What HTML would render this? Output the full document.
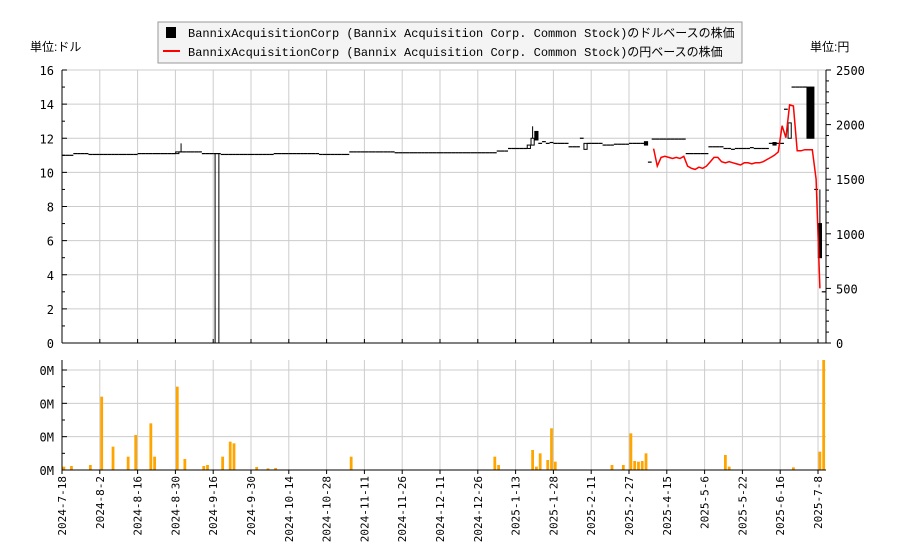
<!DOCTYPE html>
<html><head><meta charset="utf-8"><style>
body{margin:0;background:#fff;}
svg text{font-family:"DejaVu Sans Mono","Liberation Mono","Noto Sans CJK JP",monospace;font-size:12px;fill:#000;}
</style></head><body>
<svg id="c" width="900" height="550" xmlns="http://www.w3.org/2000/svg">
<rect width="900" height="550" fill="#fff"/>
<g id="grid"></g><g id="marks"></g><g id="axes"></g>
<g>
<rect x="158" y="22" width="584" height="41" fill="#f4f4f4" stroke="#999"/>
<rect x="166" y="27" width="10" height="11" fill="#000"/>
<text x="188" y="37" style="font-family:'Liberation Mono','Noto Sans CJK JP',monospace">BannixAcquisitionCorp (Bannix Acquisition Corp. Common Stock)のドルベースの株価</text>
<line x1="163" y1="51" x2="180" y2="51" stroke="#f00" stroke-width="2"/>
<text x="188" y="56" style="font-family:'Liberation Mono','Noto Sans CJK JP',monospace">BannixAcquisitionCorp (Bannix Acquisition Corp. Common Stock)の円ベースの株価</text>
</g>
<text x="30" y="51" style="font-family:'Liberation Sans','Noto Sans CJK JP',sans-serif">単位:ドル</text>
<text x="810" y="51" style="font-family:'Liberation Sans','Noto Sans CJK JP',sans-serif">単位:円</text>
</svg>
<script>
const dateLabels=["2024-7-18","2024-8-2","2024-8-16","2024-8-30","2024-9-16","2024-9-30","2024-10-14","2024-10-28","2024-11-11","2024-11-26","2024-12-11","2024-12-26","2025-1-13","2025-1-28","2025-2-11","2025-2-27","2025-4-15","2025-5-6","2025-5-22","2025-6-16","2025-7-8"];
const closes=[11.0,11.0,11.0,11.1,11.1,11.1,11.1,11.05,11.05,11.05,11.05,11.05,11.05,11.05,11.05,11.05,11.05,11.05,11.05,11.05,
11.1,11.1,11.1,11.1,11.1,11.1,11.1,11.1,11.1,11.1,11.2,11.2,11.2,11.2,11.2,11.2,11.2,11.1,11.1,11.1,
11.1,11.1,11.05,11.05,11.05,11.05,11.05,11.05,11.05,11.05,11.05,11.05,11.05,11.05,11.05,11.05,11.1,11.1,11.1,11.1,
11.1,11.1,11.1,11.1,11.1,11.1,11.1,11.1,11.05,11.05,11.05,11.05,11.05,11.05,11.05,11.05,11.2,11.2,11.2,11.2,
11.2,11.2,11.2,11.2,11.2,11.2,11.2,11.2,11.15,11.15,11.15,11.15,11.15,11.15,11.15,11.15,11.15,11.15,11.15,11.15,
11.15,11.15,11.15,11.15,11.15,11.15,11.15,11.15,11.15,11.15,11.15,11.15,11.15,11.15,11.15,11.25,11.25,11.25,11.4,11.4,
11.4,11.4,11.4,11.6,12.0,11.9,11.7,11.8,11.7,11.75,11.7,11.7,11.7,11.7,11.5,11.5,11.5,12.0,11.7,11.7,
11.7,11.7,11.7,11.6,11.6,11.6,11.65,11.65,11.65,11.65,11.7,11.7,11.7,11.7,11.6,10.6,11.95,11.95,11.95,11.95,
11.95,11.95,11.95,11.95,11.95,11.1,11.1,11.1,11.1,11.1,11.1,11.5,11.5,11.5,11.5,11.4,11.4,11.35,11.4,11.4,
11.4,11.4,11.4,11.4,11.4,11.4,11.4,11.7,11.6,11.7,11.7,13.7,12.9,15.0,15.0,15.0,15.0,12.0,12.0,9.0,5.0,3.0];
const openOverIdx=[30,123,124,125,138,154,182,188,192,197,198,200];
const openOverVal=[11.1,11.4,11.6,12.4,11.35,11.8,11.45,11.75,12.0,15.0,15.0,7.0];
const highIdx=[31,124,200];
const highVal=[11.7,12.7,9.0];
const lowIdx=[40,41];
const lowVal=[0,0];
const yenStart=156;
const yen=[1780,1620,1700,1710,1700,1690,1700,1690,1710,1620,1600,1590,1610,1600,1620,1660,1700,1700,1660,1650,1660,1650,1640,1630,1650,1650,1640,1650,1650,1660,1680,1700,1720,1750,1990,1880,2180,2170,1760,1760,1770,1770,1770,1500,500];
const volIdx=[0,2,7,10,13,17,19,23,24,30,32,37,38,42,44,45,51,54,56,76,114,115,124,125,126,128,129,130,145,148,150,151,152,153,154,175,176,193,200,201];
const volVal=[0.1,0.12,0.15,2.2,0.7,0.4,1.05,1.4,0.4,2.5,0.33,0.12,0.15,0.4,0.85,0.8,0.09,0.05,0.06,0.4,0.4,0.15,0.6,0.1,0.5,0.3,1.25,0.25,0.15,0.15,1.1,0.27,0.25,0.27,0.5,0.45,0.1,0.08,0.55,3.3];
const leftTicks=[0,2,4,6,8,10,12,14,16];
const rightTicks=[0,500,1000,1500,2000,2500];
const volTicks=[0,1,2,3];

const NS="http://www.w3.org/2000/svg";
const X0=62,X1=826,BW=3.78,T=70,B=343,VT=360,VB=470;
const xs=i=>X0+i*BW, xc=i=>X0+i*BW+BW/2;
const yL=v=>B-v/16*(B-T), yR=v=>B-v/2500*(B-T), yV=v=>VB-v*(VB-VT)/3.3;
function mk(p,tag,a){const e=document.createElementNS(NS,tag);for(const k in a)e.setAttribute(k,a[k]);p.appendChild(e);return e;}
const G=document.getElementById('grid'),M=document.getElementById('marks'),A=document.getElementById('axes');
leftTicks.forEach(v=>{const l=mk(G,'line',{x1:X0,x2:X1,y1:yL(v),y2:yL(v),stroke:'#ccc'});});
volTicks.forEach(v=>{const l=mk(G,'line',{x1:X0,x2:X1,y1:yV(v),y2:yV(v),stroke:'#ccc'});});
dateLabels.forEach((d,k)=>{const x=xs(k*10);
 const l=mk(G,'line',{x1:x,x2:x,y1:T,y2:B,stroke:'#ccc'});
 const l2=mk(G,'line',{x1:x,x2:x,y1:VT,y2:VB,stroke:'#ccc'});
 const t=mk(A,'text',{transform:`translate(${x+4},${VB+6}) rotate(-90)`,'text-anchor':'end',style:'font-size:11px'});t.textContent=d;
 
 mk(A,'line',{x1:x,x2:x,y1:VB,y2:VB+4,stroke:'#000'});mk(A,'line',{x1:x,x2:x,y1:B,y2:B-4,stroke:'#000'});
});
closes.forEach((c,i)=>{
 let o=c; const oi=openOverIdx.indexOf(i); if(oi>=0)o=openOverVal[oi];
 const hi=highIdx.indexOf(i), lo=lowIdx.indexOf(i);
 const h=hi>=0?highVal[hi]:Math.max(o,c), lw=lo>=0?lowVal[lo]:Math.min(o,c);
 const g=mk(M,'g',{});
 if(h>Math.max(o,c)||lw<Math.min(o,c))mk(g,'line',{x1:xc(i),x2:xc(i),y1:yL(h),y2:yL(lw),stroke:'#000'});
 const top=yL(Math.max(o,c)),bot=yL(Math.min(o,c));
 if(bot-top<1)mk(g,'line',{x1:xs(i),x2:xs(i)+BW,y1:top,y2:top,stroke:'#000','stroke-width':1.2});
 else mk(g,'rect',{x:xs(i)+0.3,y:top,width:BW-0.6,height:bot-top,fill:c<o?'#000':'#fff',stroke:'#000','stroke-width':1});
});
let d='';yen.forEach((v,k)=>{d+=(k?'L':'M')+xc(yenStart+k).toFixed(1)+','+yR(v).toFixed(1);});
const yl=mk(M,'path',{d:d,fill:'none',stroke:'#f00','stroke-width':1.5});
volIdx.forEach((i,k)=>{const r=mk(M,'rect',{x:xs(i)+0.5,y:yV(volVal[k]),width:BW-1,height:VB-yV(volVal[k]),fill:'#ffa500'});
 });
mk(A,'line',{x1:X0,x2:X0,y1:T,y2:B,stroke:'#000'});mk(A,'line',{x1:X1,x2:X1,y1:T,y2:B,stroke:'#000'});
mk(A,'line',{x1:X0,x2:X1,y1:B,y2:B,stroke:'#000'});
mk(A,'line',{x1:X0,x2:X0,y1:VT,y2:VB,stroke:'#000'});mk(A,'line',{x1:X0,x2:X1,y1:VB,y2:VB,stroke:'#000'});
for(let v=0;v<=16;v++){mk(A,'line',{x1:X0,x2:X0+(v%2?3:5),y1:yL(v),y2:yL(v),stroke:'#000'});}
leftTicks.forEach(v=>{const t=mk(A,'text',{x:X0-8,y:yL(v)+5,'text-anchor':'end'});t.textContent=v;});
for(let v=0;v<=2500;v+=100){mk(A,'line',{x1:X1,x2:X1+(v%500?3:5),y1:yR(v),y2:yR(v),stroke:'#000'});}
rightTicks.forEach(v=>{const t=mk(A,'text',{x:X1+10,y:yR(v)+5});t.textContent=v;});
for(let v=0;v<=3.3;v+=0.5){mk(A,'line',{x1:X0,x2:X0+(Math.abs(v-Math.round(v))>0.1?3:5),y1:yV(v),y2:yV(v),stroke:'#000'});}
volTicks.forEach(v=>{const t=mk(A,'text',{x:X0-8,y:yV(v)+5,'text-anchor':'end'});t.textContent='0M';});
</script>
</body></html>
